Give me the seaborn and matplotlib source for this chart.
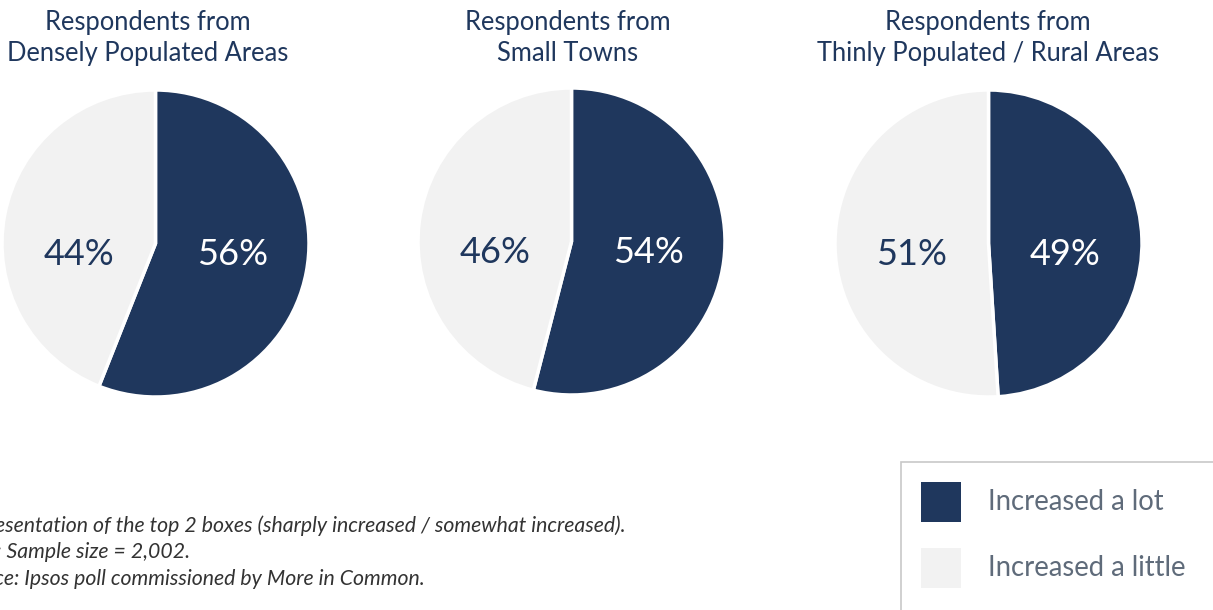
import matplotlib
matplotlib.use("Agg")
import matplotlib.pyplot as plt
from matplotlib.patches import Rectangle
import seaborn as sns

# -----------------------
# Data
# -----------------------
titles = [
    "Respondents from\nDensely Populated Areas",
    "Respondents from\nSmall Towns",
    "Respondents from\nThinly Populated / Rural Areas",
]
increased_a_lot = [56, 54, 49]
increased_a_little = [44, 46, 51]
legend_labels = ["Increased a lot", "Increased a little"]
footnotes = [
    "Representation of the top 2 boxes (sharply increased / somewhat increased).",
    "Base: Sample size = 2,002.",
    "Source: Ipsos poll commissioned by More in Common.",
]

navy = "#1F375D"
light = "#F2F2F2"

sns.set_theme(style="white")
plt.rcParams["font.family"] = ["Lato", "DejaVu Sans"]

W, H = 1213, 610
fig = plt.figure(figsize=(W / 100, H / 100), dpi=100)

# pie boxes in pixels: left, top, size
boxes = [(2, 90, 307), (418, 88, 307), (835, 90, 307)]
title_x = [148, 568, 988]

for i, (left, top, size) in enumerate(boxes):
    ax = fig.add_axes([left / W, 1 - (top + size) / H, size / W, size / H])
    vals = [increased_a_lot[i], increased_a_little[i]]
    ax.pie(
        vals,
        colors=[navy, light],
        startangle=90,
        counterclock=False,
        radius=1,
        wedgeprops=dict(edgecolor="white", linewidth=2.5),
    )
    ax.set_xlim(-1.0, 1.0)
    ax.set_ylim(-1.0, 1.0)
    ax.set_aspect("equal")
    ax.axis("off")

    ax.text(0.5, -0.07, f"{increased_a_lot[i]}%", color="white",
            fontsize=26, ha="center", va="center")
    ax.text(-0.5, -0.07, f"{increased_a_little[i]}%", color=navy,
            fontsize=26, ha="center", va="center")

    fig.text(title_x[i] / W, 1 - 38 / H, titles[i], color=navy,
             fontsize=18.4, ha="center", va="center", linespacing=1.28)

# -----------------------
# Footnotes (cut at left edge)
# -----------------------
for j, line in enumerate(footnotes):
    fig.text(-46 / W, 1 - (526 + j * 26.5) / H, line, color="#333333",
             fontsize=15.3, style="italic", ha="left", va="center")

# -----------------------
# Legend box
# -----------------------
fig.patches.append(Rectangle((901 / W, -0.1), 400 / W, (0.1 + 1 - 462 / H),
                             transform=fig.transFigure, facecolor="white",
                             edgecolor="#C8C8C8", linewidth=1.2))
for k, (lab, col) in enumerate(zip(legend_labels, [navy, light])):
    yc = 502 + k * 66
    fig.patches.append(Rectangle((921 / W, 1 - (yc + 20) / H), 40 / W, 40 / H,
                                 transform=fig.transFigure, facecolor=col,
                                 edgecolor="none"))
    fig.text(988 / W, 1 - yc / H, lab, color="#5F6B7A", fontsize=19.8,
             ha="left", va="center")

fig.savefig("out.png", dpi=100)
